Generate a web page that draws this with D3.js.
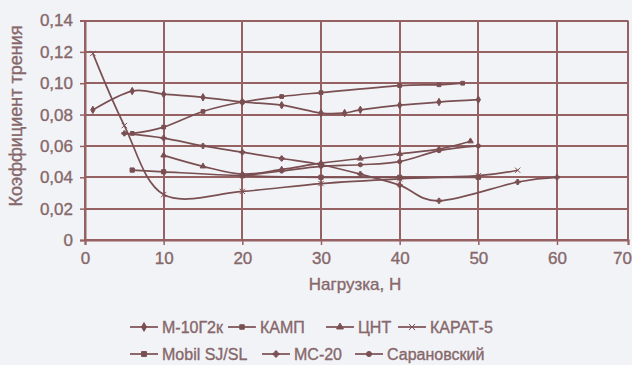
<!DOCTYPE html>
<html>
<head>
<meta charset="utf-8">
<script src="https://cdn.jsdelivr.net/npm/d3@7"></script>
<style>
  html, body { margin: 0; padding: 0; background: #f2f3f7; }
  svg { display: block; }
  text { font-family: "Liberation Sans", Arial, sans-serif; fill: #86686a; stroke: #86686a; stroke-width: 0.35px; }
</style>
</head>
<body>
<svg id="chart" width="632" height="365"></svg>
<script>
// Friction coefficient vs. load for seven lubricants
const xTicks = [0, 10, 20, 30, 40, 50, 60, 70];
const yTicks = [0, 0.02, 0.04, 0.06, 0.08, 0.10, 0.12, 0.14];
const yTickLabels = ["0", "0,02", "0,04", "0,06", "0,08", "0,10", "0,12", "0,14"];

const seriesNames = ["М-10Г2к", "КАМП", "ЦНТ", "КАРАТ-5", "Mobil SJ/SL", "МС-20", "Сарановский"];

// [load, friction coefficient] pairs per oil
const m10g2k = [[1, 0.083], [6, 0.095], [10, 0.093], [15, 0.091], [20, 0.088], [25, 0.086], [30, 0.081], [33, 0.081], [35, 0.083], [40, 0.086], [45, 0.088], [50, 0.0895]];
const kamp = [[6, 0.068], [10, 0.072], [15, 0.082], [20, 0.088], [25, 0.0915], [30, 0.094], [40, 0.0985], [45, 0.099], [48, 0.1]];
const cnt = [[10, 0.054], [15, 0.047], [20, 0.042], [25, 0.045], [30, 0.049], [35, 0.052], [40, 0.055], [45, 0.058], [49, 0.063]];
const karat5 = [[1, 0.119], [5, 0.073], [10, 0.029], [20, 0.031], [30, 0.036], [40, 0.039], [50, 0.041], [55, 0.0445]];
const mobil = [[6, 0.0446], [10, 0.0435], [20, 0.041], [30, 0.040], [40, 0.040], [50, 0.040]];
const mc20 = [[5, 0.068], [10, 0.065], [15, 0.06], [20, 0.056], [25, 0.052], [30, 0.048], [35, 0.042], [40, 0.035], [45, 0.025], [55, 0.037], [60, 0.04]];
const saranovsky = [[20, 0.041], [25, 0.044], [30, 0.047], [35, 0.048], [40, 0.05], [45, 0.057], [50, 0.06]];

const seriesValues = [m10g2k, kamp, cnt, karat5, mobil, mc20, saranovsky];

const lineColor = "#7a4f52";
const gridColor = "#966163";

const svg = d3.select("#chart");

const x = d3.scaleLinear().domain([0, 60, 70]).range([85, 557, 628]);
const y = d3.scaleLinear().domain([0, 0.14]).range([240, 20.5]);

// grid
const grid = svg.append("g");
grid.selectAll("line.h").data(yTicks).join("line")
  .attr("x1", x(0)).attr("x2", x(70))
  .attr("y1", d => Math.round(y(d))).attr("y2", d => Math.round(y(d)))
  .attr("stroke", gridColor).attr("stroke-width", 2);
grid.selectAll("line.v").data(xTicks).join("line")
  .attr("x1", d => Math.round(x(d))).attr("x2", d => Math.round(x(d)))
  .attr("y1", y(0)).attr("y2", y(0.14))
  .attr("stroke", gridColor).attr("stroke-width", 2);

// axes
const yAxis = svg.append("g").attr("transform", `translate(${x(0)},0)`)
  .call(d3.axisLeft(y).tickValues(yTicks).tickFormat((d, i) => yTickLabels[i]).tickSize(5).tickPadding(7));
const xAxis = svg.append("g").attr("transform", `translate(0,${y(0)})`)
  .call(d3.axisBottom(x).tickValues(xTicks).tickSize(5).tickPadding(7));
[yAxis, xAxis].forEach(a => {
  a.select(".domain").attr("stroke", gridColor).attr("stroke-width", 2);
  a.selectAll(".tick line").attr("stroke", gridColor).attr("stroke-width", 1.5);
  a.selectAll(".tick text").attr("font-size", 17).attr("fill", "#86686a");
});
// keep the last load label inside the frame
xAxis.selectAll(".tick text").filter(d => d === 70).attr("dx", -6);

// series
const line = d3.line().x(d => x(d[0])).y(d => y(d[1])).curve(d3.curveCardinal.tension(0));
const symbolTypes = [d3.symbolDiamond, d3.symbolSquare, d3.symbolTriangle,
  d3.symbolTimes || d3.symbolCross, d3.symbolSquare, d3.symbolCross, d3.symbolCircle];
const symbolSizes = [16, 14, 14, 20, 18, 14, 14];

seriesValues.forEach((vals, i) => {
  const g = svg.append("g");
  g.append("path").datum(vals).attr("d", line)
    .attr("fill", "none").attr("stroke", lineColor).attr("stroke-width", 1.7);
  const sym = d3.symbol().type(symbolTypes[i]).size(symbolSizes[i]);
  g.selectAll("path.m").data(vals).join("path")
    .attr("transform", d => `translate(${x(d[0])},${y(d[1])})`)
    .attr("d", sym)
    .attr("fill", lineColor).attr("stroke", lineColor).attr("stroke-width", 1);
});

// axis titles
svg.append("text").attr("transform", "translate(22,116) rotate(-90)")
  .attr("text-anchor", "middle").attr("font-size", 18).text("Коэффициент трения");
svg.append("text").attr("x", 355).attr("y", 290)
  .attr("text-anchor", "middle").attr("font-size", 17).text("Нагрузка, Н");

// legend
const legendPos = [[130, 327], [228, 327], [326, 327], [398, 327], [130, 354], [262, 354], [355, 354]];
seriesNames.forEach((name, i) => {
  const [lx, ly] = legendPos[i];
  const g = svg.append("g").attr("transform", `translate(${lx},${ly})`);
  g.append("line").attr("x1", 0).attr("x2", 28).attr("y1", 0).attr("y2", 0)
    .attr("stroke", lineColor).attr("stroke-width", 1.7);
  g.append("path").attr("transform", "translate(14,0)")
    .attr("d", d3.symbol().type(symbolTypes[i]).size(symbolSizes[i] + 6))
    .attr("fill", lineColor).attr("stroke", lineColor);
  g.append("text").attr("x", 32).attr("y", 0).attr("dy", "0.35em")
    .attr("font-size", 16).text(name);
});
</script>
</body>
</html>
